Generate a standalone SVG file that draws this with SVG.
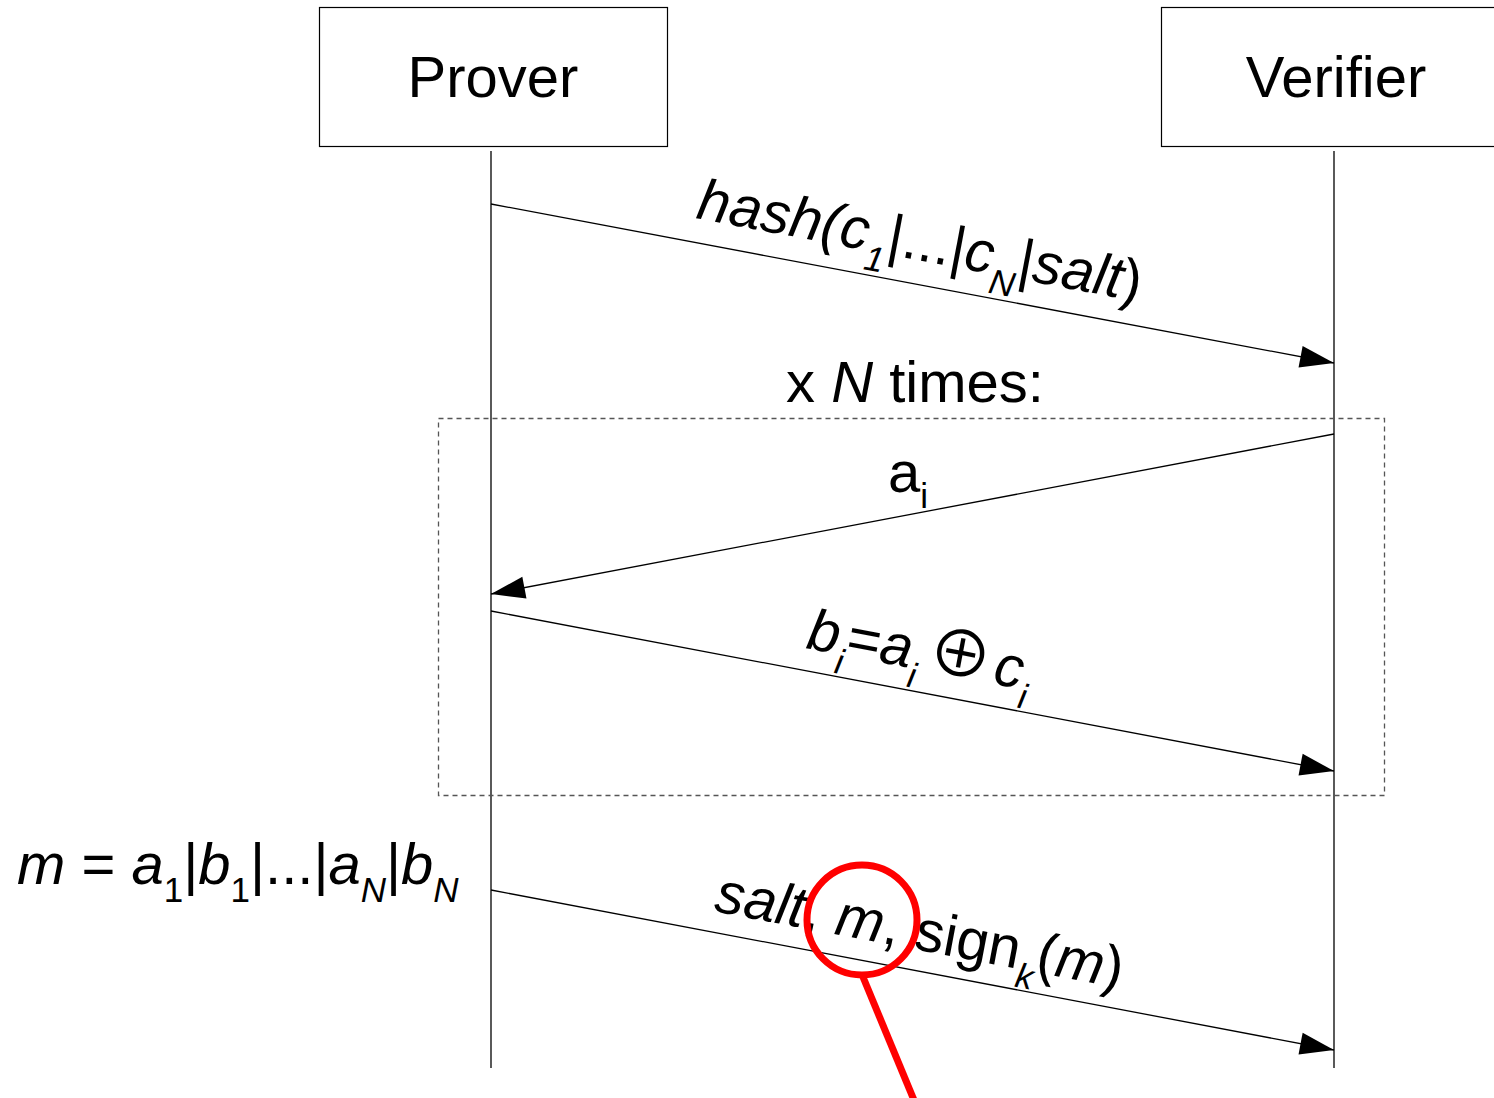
<svg xmlns="http://www.w3.org/2000/svg" width="1494" height="1098" viewBox="0 0 1494 1098">
  <style>
    text { font-family: "Liberation Sans", Arial, sans-serif; font-size: 58px; fill: #000; }
    .it { font-style: italic; }
    .sub { font-size: 35px; }
    .op { font-family: "Noto Sans CJK SC", "DejaVu Sans", sans-serif; font-size: 64px; font-weight: 400; }
    .box { fill: #fff; stroke: #000; stroke-width: 1.2; }
    .life { stroke: #000; stroke-width: 1.3; fill: none; }
    .msg { stroke: #000; stroke-width: 1.3; fill: none; marker-end: url(#arrow); }
    .loop { fill: none; stroke: #555; stroke-width: 1.3; stroke-dasharray: 5 4; }
    .mark { fill: none; stroke: #ff0000; stroke-width: 7; }
  </style>
  <defs>
    <marker id="arrow" markerUnits="userSpaceOnUse" markerWidth="36" markerHeight="24" refX="34" refY="11" orient="auto" overflow="visible">
      <path d="M0,0 L34,11 L0,22 z" fill="#000"/>
    </marker>
  </defs>
  <rect width="1494" height="1098" fill="#fff"/>

  <g id="prover">
    <rect class="box" x="319.5" y="7.5" width="348" height="139"/>
    <text x="493" y="97" text-anchor="middle">Prover</text>
    <line class="life" x1="491" y1="151" x2="491" y2="1068"/>
  </g>
  <g id="verifier">
    <rect class="box" x="1161.5" y="7.5" width="348" height="139"/>
    <text x="1336" y="97" text-anchor="middle">Verifier</text>
    <line class="life" x1="1334" y1="151" x2="1334" y2="1068"/>
  </g>

  <g id="loop">
    <rect class="loop" x="438.5" y="418.5" width="946" height="377"/>
    <text x="786" y="402">x <tspan class="it">N</tspan> times:</text>
  </g>

  <g id="connectors">
    <line class="msg" x1="491" y1="204" x2="1334" y2="363"/>
    <line class="msg" x1="1334" y1="434" x2="491" y2="594"/>
    <line class="msg" x1="491" y1="611" x2="1334" y2="771"/>
    <line class="msg" x1="491" y1="890" x2="1334" y2="1050"/>
  </g>

  <g id="labels">
    <text transform="translate(695,218) rotate(10.68)"><tspan class="it">hash(c</tspan><tspan class="it sub" dy="19">1</tspan><tspan dy="-19">|...|</tspan><tspan class="it">c</tspan><tspan class="it sub" dy="19">N</tspan><tspan dy="-19">|</tspan><tspan class="it">salt</tspan>)</text>
    <text x="888" y="492">a<tspan class="sub" dy="16">i</tspan></text>
    <text transform="translate(805,648) rotate(10.75)"><tspan class="it">b</tspan><tspan class="it sub" dy="19">i</tspan><tspan dy="-19">=</tspan><tspan class="it">a</tspan><tspan class="it sub" dy="19">i</tspan><tspan class="op" dy="-19" dx="8">⊕</tspan><tspan class="it" dx="4">c</tspan><tspan class="it sub" dy="19">i</tspan></text>
    <text x="17" y="884"><tspan class="it">m</tspan> = <tspan class="it">a</tspan><tspan class="sub" dy="18">1</tspan><tspan dy="-18">|</tspan><tspan class="it">b</tspan><tspan class="sub" dy="18">1</tspan><tspan dy="-18">|...|</tspan><tspan class="it">a</tspan><tspan class="it sub" dy="18">N</tspan><tspan dy="-18">|</tspan><tspan class="it">b</tspan><tspan class="it sub" dy="18">N</tspan></text>
    <text transform="translate(713,911) rotate(10.75)"><tspan class="it">salt</tspan>, <tspan class="it">m</tspan>, sign<tspan class="it sub" dy="18">k</tspan><tspan dy="-18">(</tspan><tspan class="it">m</tspan>)</text>
  </g>

  <g id="highlight">
    <circle class="mark" cx="862" cy="920" r="55"/>
    <line class="mark" x1="863" y1="977" x2="916" y2="1105"/>
  </g>
</svg>
